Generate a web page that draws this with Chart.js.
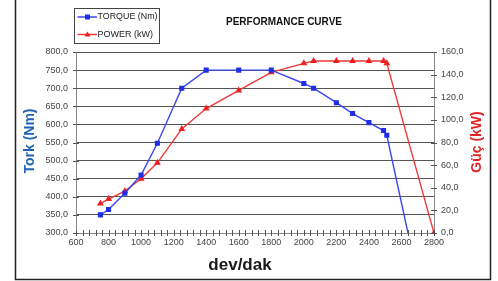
<!DOCTYPE html>
<html>
<head>
<meta charset="utf-8">
<script src="https://cdn.jsdelivr.net/npm/chart.js@4"></script>
<style>
  html, body { margin: 0; padding: 0; background: #fff; }
  #wrap { width: 498px; height: 281px; }
</style>
</head>
<body>
<div id="wrap"><canvas id="perfChart" width="498" height="281"></canvas></div>
<script>
// values
const rpmTorque = [750, 800, 900, 1000, 1100, 1250, 1400, 1600, 1800, 2000, 2060, 2200, 2300, 2400, 2490, 2510, 2640];
const torque    = [350, 365, 410, 460, 548, 700, 750, 750, 750, 713, 700, 660, 630, 605, 583, 570, 300];
const rpmPower  = [750, 800, 900, 1000, 1100, 1250, 1400, 1600, 1800, 2000, 2060, 2200, 2300, 2400, 2490, 2510, 2800];
const power     = [26, 30, 37, 48, 62, 92, 110, 126, 142, 150, 152, 152, 152, 152, 152, 150, 0];

const labelTorque = 'TORQUE (Nm)';
const labelPower = 'POWER (kW)';

const blue = '#1f2fe8';
const red = '#ee2020';
const fmt = v => Number(v).toFixed(1).replace('.', ',');

// frame, legend, titles and crossing tick marks
const decor = {
  id: 'decor',
  afterDraw(chart) {
    const ctx = chart.ctx;
    const { x, y, y1 } = chart.scales;
    const area = chart.chartArea;
    ctx.save();

    // outer frame
    ctx.strokeStyle = '#222';
    ctx.lineWidth = 1.5;
    ctx.strokeRect(15.5, -5, 475, 284.5);

    // tick crosses
    ctx.strokeStyle = '#555';
    ctx.lineWidth = 1;
    ctx.beginPath();
    for (let v = 600; v <= 2800; v += 40) {
      const px = Math.round(x.getPixelForValue(v)) + 0.5;
      ctx.moveTo(px, area.bottom - 3);
      ctx.lineTo(px, area.bottom + 3);
    }
    for (let v = 300; v <= 800; v += 50) {
      const py = Math.round(y.getPixelForValue(v)) + 0.5;
      ctx.moveTo(area.left - 3, py);
      ctx.lineTo(area.left + 3, py);
    }
    for (let v = 0; v <= 160; v += 20) {
      const py = Math.round(y1.getPixelForValue(v)) + 0.5;
      ctx.moveTo(area.right - 3, py);
      ctx.lineTo(area.right + 3, py);
    }
    ctx.stroke();

    // legend
    ctx.strokeStyle = '#444';
    ctx.strokeRect(74.5, 8.5, 85, 35);
    const ds = chart.data.datasets;
    [[ds[0], 17], [ds[1], 34.5]].forEach(([d, ly], i) => {
      ctx.strokeStyle = d.borderColor;
      ctx.lineWidth = 1.5;
      ctx.beginPath();
      ctx.moveTo(77.5, ly);
      ctx.lineTo(97, ly);
      ctx.stroke();
      ctx.fillStyle = d.pointBackgroundColor;
      ctx.beginPath();
      if (i === 0) {
        ctx.rect(85, ly - 2.5, 5, 5);
      } else {
        ctx.moveTo(87.5, ly - 3);
        ctx.lineTo(90.5, ly + 2);
        ctx.lineTo(84.5, ly + 2);
        ctx.closePath();
      }
      ctx.fill();
      ctx.fillStyle = '#222';
      ctx.font = '9px "Liberation Sans", Arial, sans-serif';
      ctx.textAlign = 'left';
      ctx.textBaseline = 'middle';
      ctx.fillText(d.label, 97.5, ly, 60);
    });

    // chart title
    ctx.fillStyle = '#111';
    ctx.font = 'bold 10px "Liberation Sans", Arial, sans-serif';
    ctx.textAlign = 'center';
    ctx.fillText('PERFORMANCE CURVE', 284, 22);

    // x title
    ctx.font = 'bold 17px "Liberation Sans", Arial, sans-serif';
    ctx.fillStyle = '#1a1a1a';
    ctx.fillText('dev/dak', 240, 265);

    // y titles
    ctx.font = 'bold 14px "Liberation Sans", Arial, sans-serif';
    ctx.save();
    ctx.translate(30, 141);
    ctx.rotate(-Math.PI / 2);
    ctx.fillStyle = '#1f62b8';
    ctx.fillText('Tork (Nm)', 0, 0);
    ctx.restore();
    ctx.save();
    ctx.translate(477, 142);
    ctx.rotate(-Math.PI / 2);
    ctx.fillStyle = '#e02424';
    ctx.fillText('Güç (kW)', 0, 0);
    ctx.restore();

    ctx.restore();
  }
};

new Chart(document.getElementById('perfChart'), {
  type: 'line',
  data: {
    datasets: [{
      label: labelTorque,
      data: rpmTorque.map((r, i) => ({ x: r, y: torque[i] })),
      yAxisID: 'y',
      borderColor: '#3a46f0',
      backgroundColor: blue,
      pointBackgroundColor: blue,
      pointBorderColor: blue,
      pointStyle: 'rect',
      pointRadius: rpmTorque.map((r, i) => i === rpmTorque.length - 1 ? 0 : 2.6),
      borderWidth: 1.4,
      tension: 0
    }, {
      label: labelPower,
      data: rpmPower.map((r, i) => ({ x: r, y: power[i] })),
      yAxisID: 'y1',
      borderColor: '#f03838',
      backgroundColor: red,
      pointBackgroundColor: red,
      pointBorderColor: red,
      pointStyle: 'triangle',
      pointRadius: 2.6,
      borderWidth: 1.4,
      tension: 0
    }]
  },
  options: {
    responsive: false,
    animation: false,
    layout: { padding: { top: 52, left: 0, right: 0, bottom: 0 } },
    plugins: {
      legend: { display: false },
      tooltip: { enabled: false }
    },
    scales: {
      x: {
        type: 'linear',
        min: 600,
        max: 2800,
        afterFit: s => { s.height = 48; },
        ticks: {
          stepSize: 200,
          color: '#444',
          padding: 4,
          maxRotation: 0,
          callback: v => String(v),
          font: { size: 9, family: '"Liberation Sans", Arial, sans-serif' }
        },
        grid: { drawOnChartArea: false, drawTicks: false },
        border: { color: '#888' }
      },
      y: {
        position: 'left',
        min: 300,
        max: 800,
        afterFit: s => { s.width = 76; },
        ticks: {
          stepSize: 50,
          color: '#444',
          padding: 8,
          callback: fmt,
          font: { size: 9, family: '"Liberation Sans", Arial, sans-serif' }
        },
        grid: { color: '#555', drawTicks: false },
        border: { color: '#888' }
      },
      y1: {
        position: 'right',
        min: 0,
        max: 160,
        afterFit: s => { s.width = 64; },
        ticks: {
          stepSize: 20,
          color: '#444',
          padding: 7,
          callback: fmt,
          font: { size: 9, family: '"Liberation Sans", Arial, sans-serif' }
        },
        grid: { drawOnChartArea: false, drawTicks: false },
        border: { color: '#888' }
      }
    }
  },
  plugins: [decor]
});
</script>
</body>
</html>
